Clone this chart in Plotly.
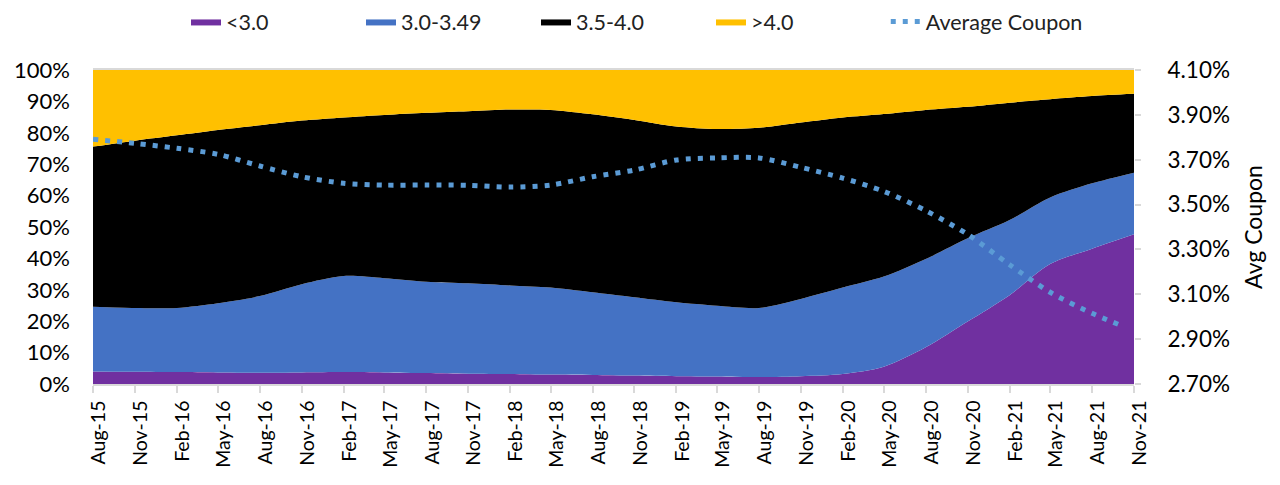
import pandas as pd
import plotly.graph_objects as go

# Quarterly observation labels (x categories / tick labels)
quarters = ["Aug-15", "Nov-15", "Feb-16", "May-16", "Aug-16", "Nov-16", "Feb-17", "May-17",
            "Aug-17", "Nov-17", "Feb-18", "May-18", "Aug-18", "Nov-18", "Feb-19", "May-19",
            "Aug-19", "Nov-19", "Feb-20", "May-20", "Aug-20", "Nov-20", "Feb-21", "May-21",
            "Aug-21", "Nov-21"]

# Share of balance by coupon bucket (%)
below_3 = [4.0, 3.9, 3.8, 3.7, 3.6, 3.7, 3.8, 3.7, 3.5, 3.3, 3.2, 3.0, 2.9, 2.7, 2.5, 2.4,
           2.2, 2.5, 3.2, 5.5, 11.7, 19.9, 28.3, 38.2, 43.1, 47.7]
b3_to_349 = [20.6, 20.3, 20.4, 22.0, 24.4, 28.1, 30.6, 30.0, 29.1, 28.8, 28.2, 27.7, 26.3, 24.9,
             23.5, 22.5, 22.0, 24.6, 27.5, 28.7, 28.1, 26.5, 23.9, 21.2, 20.8, 19.6]
b35_to_4 = [51.0, 53.3, 55.0, 55.2, 54.4, 52.1, 50.5, 52.0, 53.8, 54.8, 56.0, 56.6, 56.7, 56.5,
            56.0, 56.3, 57.4, 56.2, 54.2, 51.8, 47.5, 41.9, 37.4, 31.3, 27.8, 25.1]
above_4 = [24.4, 22.5, 20.8, 19.1, 17.6, 16.1, 15.1, 14.3, 13.6, 13.1, 12.6, 12.7, 14.1, 15.9,
           18.0, 18.8, 18.4, 16.7, 15.1, 14.0, 12.7, 11.7, 10.4, 9.3, 8.3, 7.6]

# Average coupon (%)
coupon_dates = quarters[:25] + ["Oct-21"]
avg_coupon = [3.791, 3.773, 3.751, 3.724, 3.672, 3.624, 3.595, 3.587, 3.587, 3.586, 3.578,
              3.587, 3.624, 3.654, 3.699, 3.708, 3.708, 3.666, 3.618, 3.559, 3.473, 3.367,
              3.232, 3.109, 3.015, 2.963]

x = pd.to_datetime(quarters, format="%b-%y")
xc = pd.to_datetime(coupon_dates, format="%b-%y")

FONT = "Lato, 'Open Sans', sans-serif"
fig = go.Figure()

series = [("<3.0", below_3, "#7030A0"),
          ("3.0-3.49", b3_to_349, "#4472C4"),
          ("3.5-4.0", b35_to_4, "#000000"),
          (">4.0", above_4, "#FFC000")]
for name, vals, col in series:
    fig.add_trace(go.Scatter(
        x=x, y=vals, name=name, stackgroup="s", mode="lines",
        line=dict(width=0, color=col, shape="spline", smoothing=0.8),
        fillcolor=col, legend="legend"))

fig.add_trace(go.Scatter(
    x=xc, y=avg_coupon, name="Average Coupon", yaxis="y2", mode="lines",
    line=dict(color="#5B9BD5", width=5, dash="5px,7px", shape="spline", smoothing=0.8),
    legend="legend2"))

legend_font = dict(size=21.5, color="#222222")
fig.update_layout(
    width=1280, height=485,
    margin=dict(l=93, r=146, t=70, b=101),
    paper_bgcolor="white", plot_bgcolor="white",
    font=dict(family=FONT, color="#000000", size=20),
    showlegend=True,
    legend=dict(orientation="h", xref="container", yref="container",
                x=0.1453, xanchor="left", y=0.998, yanchor="top",
                entrywidth=130, entrywidthmode="pixels",
                font=legend_font, traceorder="normal"),
    legend2=dict(orientation="h", xref="container", yref="container",
                 x=0.692, xanchor="left", y=0.998, yanchor="top",
                 font=legend_font),
    xaxis=dict(type="date", range=[x[0], x[-1]], tick0=x[0], dtick="M3",
               tickformat="%b-%y", tickangle=-90, ticks="outside", ticklen=7,
               tickcolor="#d9d9d9", tickwidth=1.5, showline=True, linecolor="#d9d9d9",
               linewidth=1.5, mirror=True, showgrid=False, ticklabelshift=6,
               tickfont=dict(size=19.5)),
    yaxis=dict(range=[0, 100], dtick=10, ticksuffix="%", showgrid=False,
               zeroline=False, ticks="", ticklabelstandoff=22, tickfont=dict(size=22)),
    yaxis2=dict(range=[2.7, 4.1], tick0=2.7, dtick=0.2, tickformat=".2f", ticksuffix="%",
                overlaying="y", side="right", showgrid=False, zeroline=False,
                ticks="outside", ticklen=6, tickcolor="#d9d9d9", tickwidth=1.5,
                ticklabelstandoff=22, tickfont=dict(size=22.5),
                title=dict(text="Avg Coupon", font=dict(size=23), standoff=16)),
)

fig.write_html("out.html")
